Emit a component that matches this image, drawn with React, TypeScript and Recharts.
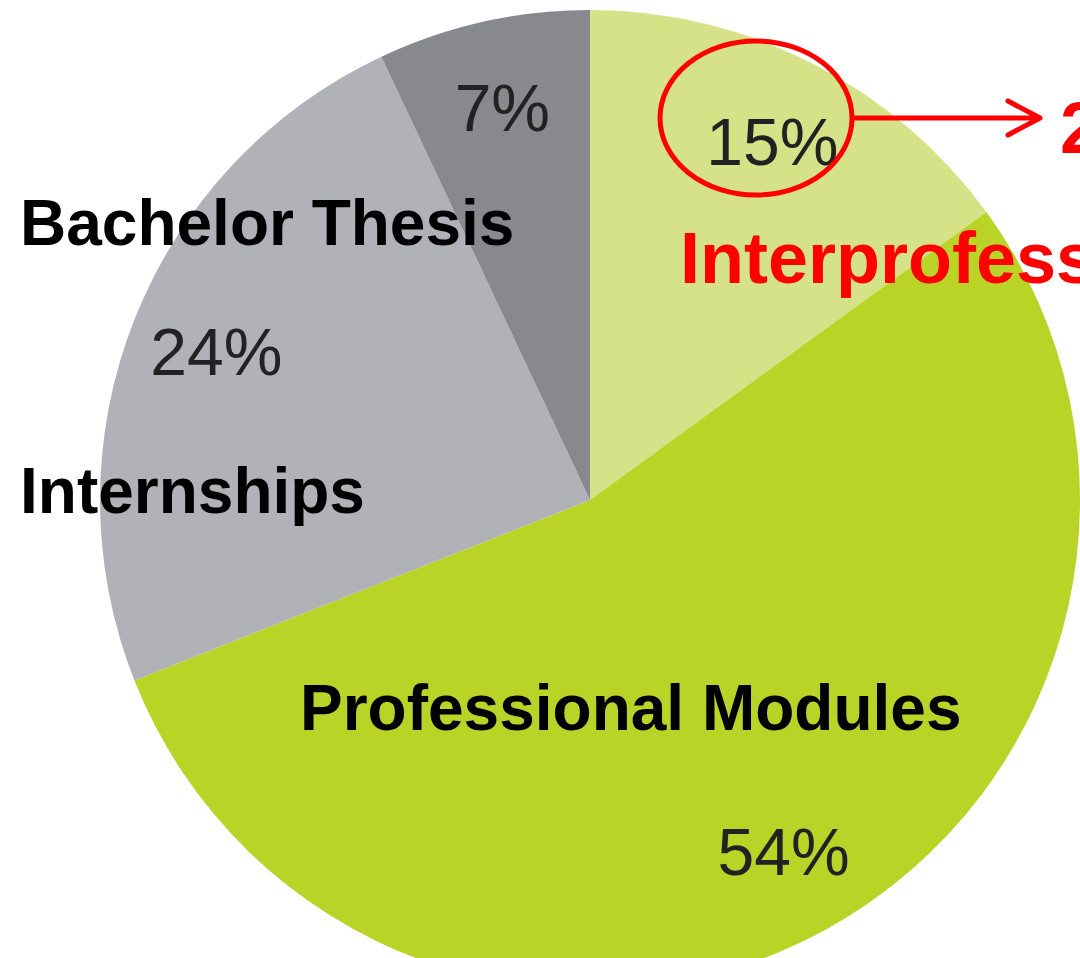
import { Cell, Pie, PieChart } from 'recharts';

const categories = [
  'Interprofessional',
  'Professional Modules',
  'Internships',
  'Bachelor Thesis',
];
const shares = [15, 54, 24, 7];
const colors = ['#d6e288', '#b9d326', '#b1b2b7', '#88898e'];

const data = categories.map((name, i) => ({ name, value: shares[i] }));

const RADIAN = Math.PI / 180;
const labelFont = "'Liberation Sans', Arial, sans-serif";

const renderPercent = (props: any) => {
  const { cx, cy, midAngle, outerRadius, value } = props;
  const r = outerRadius * 0.82;
  const x = cx + r * Math.cos(-midAngle * RADIAN);
  const y = cy + r * Math.sin(-midAngle * RADIAN);
  return (
    <text
      x={x}
      y={y}
      textAnchor="middle"
      dominantBaseline="central"
      fill="#222"
      fontSize={66}
      fontFamily={labelFont}
    >
      {`${value}%`}
    </text>
  );
};

export default function App() {
  return (
    <div style={{ position: 'absolute', left: 0, top: 0, width: 1080, height: 958, background: '#fff', overflow: 'hidden' }}>
      <PieChart width={1080} height={958} margin={{ top: 0, right: 0, bottom: 0, left: 0 }}>
        <Pie
          data={data}
          dataKey="value"
          nameKey="name"
          cx={590}
          cy={500}
          outerRadius={490}
          startAngle={90}
          endAngle={-270}
          stroke="none"
          labelLine={false}
          label={renderPercent}
          isAnimationActive={false}
        >
          {data.map((d, i) => (
            <Cell key={d.name} fill={colors[i]} />
          ))}
        </Pie>
      </PieChart>
      {/* annotations drawn on top of the pie */}
      <svg
        width={1080}
        height={958}
        style={{ position: 'absolute', left: 0, top: 0, pointerEvents: 'none' }}
      >
        <text x={20} y={245} fontSize={64} fontWeight="bold" fill="#000" fontFamily={labelFont}>
          Bachelor Thesis
        </text>
        <text x={20} y={513} fontSize={64} fontWeight="bold" fill="#000" fontFamily={labelFont}>
          Internships
        </text>
        <text x={300} y={730} fontSize={64} fontWeight="bold" fill="#000" fontFamily={labelFont}>
          Professional Modules
        </text>
        <text x={680} y={283} fontSize={72} fontWeight="bold" fill="#ff0000" fontFamily={labelFont}>
          Interprofessional
        </text>
        <ellipse cx={756} cy={118} rx={96} ry={77} fill="none" stroke="#ff0000" strokeWidth={5} />
        <line x1={852} y1={118} x2={1038} y2={118} stroke="#ff0000" strokeWidth={5} />
        <polyline
          points="1008,101 1040,118 1008,135"
          fill="none"
          stroke="#ff0000"
          strokeWidth={5}
          strokeLinecap="round"
          strokeLinejoin="round"
        />
        <text x={1060} y={153} fontSize={72} fontWeight="bold" fill="#ff0000" fontFamily={labelFont}>
          2
        </text>
      </svg>
    </div>
  );
}
